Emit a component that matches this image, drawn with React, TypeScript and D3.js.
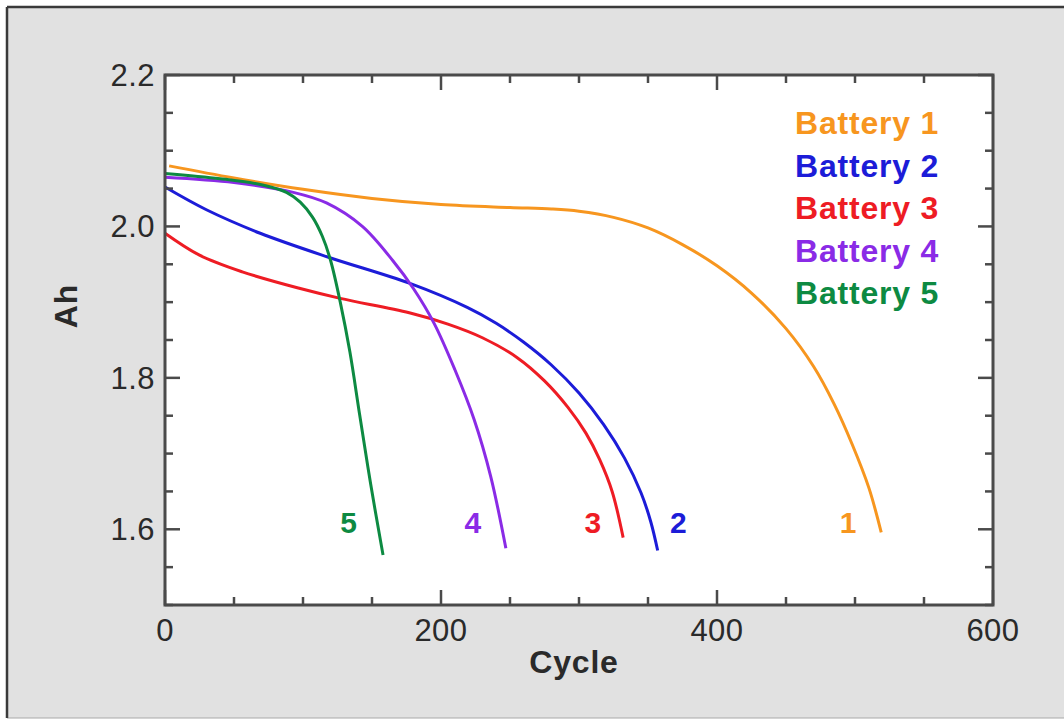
import React from "react";
import * as d3 from "d3";

const battery1 = [[3,2.080],[50,2.064],[100,2.049],[150,2.037],[200,2.029],[250,2.025],[280,2.023],[300,2.020],[325,2.012],[350,1.998],[375,1.976],[400,1.948],[425,1.912],[450,1.865],[470,1.815],[485,1.765],[498,1.712],[510,1.655],[519,1.596]];
const battery2 = [[0,2.052],[30,2.022],[69,1.991],[119,1.959],[177,1.925],[219,1.893],[240,1.872],[260,1.847],[280,1.817],[300,1.780],[318,1.738],[333,1.694],[345,1.648],[352,1.610],[357,1.572]];
const battery3 = [[0,1.991],[25,1.962],[56,1.940],[98,1.918],[127,1.905],[177,1.886],[205,1.871],[230,1.853],[255,1.827],[275,1.796],[292,1.761],[305,1.727],[315,1.692],[324,1.650],[332,1.589]];
const battery4 = [[0,2.065],[50,2.058],[93,2.045],[117,2.031],[143,2.000],[165,1.955],[180,1.918],[195,1.872],[210,1.811],[224,1.745],[236,1.670],[247,1.575]];
const battery5 = [[0,2.070],[40,2.063],[70,2.055],[88,2.045],[98,2.032],[107,2.012],[114,1.987],[120,1.955],[127,1.900],[134,1.834],[141,1.752],[149,1.660],[158,1.566]];

const seriesNames = ["Battery 1", "Battery 2", "Battery 3", "Battery 4", "Battery 5"];
const curveLabels = ["1", "2", "3", "4", "5"];
const labelCycles = [495, 372, 310, 223, 133];
const colors = ["#f7961f", "#1c1cd8", "#ee1c24", "#8a2be6", "#0d8a42"];
const xTicks = [0, 200, 400, 600];
const yTicks = [1.6, 1.8, 2.0, 2.2];

const allSeries = [battery1, battery2, battery3, battery4, battery5];

export default function App() {
  const W = 1064, H = 719;
  const left = 165, right = 993, top = 75, bottom = 605;
  const x = d3.scaleLinear().domain([0, 600]).range([left, right]);
  const y = d3.scaleLinear().domain([1.5, 2.2]).range([bottom, top]);
  const line = d3.line<number[]>().x(d => x(d[0])).y(d => y(d[1])).curve(d3.curveCatmullRom.alpha(0.5));
  const font = "'Liberation Sans', Arial, Helvetica, sans-serif";
  const axisColor = "#4a4a4a";
  const xMinor = d3.range(0, 601, 50);
  const yMinor = d3.range(1.5, 2.2001, 0.05);
  const isMajorX = (v: number) => Math.abs(v % 200) < 1e-6;
  const isMajorY = (v: number) => yTicks.some(t => Math.abs(t - v) < 1e-6);

  return (
    <svg width={W} height={H} style={{ position: "absolute", left: 0, top: 0, display: "block" }}>
      <rect x={0} y={0} width={W} height={H} fill="#ffffff" />
      <rect x={7} y={7} width={W - 7} height={711} fill="#e1e1e1" />
      <line x1={7} y1={718} x2={W} y2={718} stroke="#a8a8a8" strokeWidth={1} />
      <line x1={7} y1={7} x2={W} y2={7} stroke="#3a3a3a" strokeWidth={2.5} />
      <line x1={7} y1={7} x2={7} y2={718} stroke="#3a3a3a" strokeWidth={2.5} />
      <rect x={left} y={top} width={right - left} height={bottom - top} fill="#ffffff" />

      <g>
        {allSeries.map((s, i) => (
          <path key={i} d={line(s) || ""} fill="none" stroke={colors[i]} strokeWidth={3} />
        ))}
      </g>

      <g stroke={axisColor} strokeWidth={2.5}>
        {xMinor.map(v => {
          const len = isMajorX(v) ? 15 : 8;
          return (
            <g key={"xt" + v}>
              <line x1={x(v)} x2={x(v)} y1={bottom} y2={bottom - len} />
              <line x1={x(v)} x2={x(v)} y1={top} y2={top + len} />
            </g>
          );
        })}
        {yMinor.map(v => {
          const len = isMajorY(v) ? 15 : 8;
          return (
            <g key={"yt" + v.toFixed(2)}>
              <line x1={left} x2={left + len} y1={y(v)} y2={y(v)} />
              <line x1={right} x2={right - len} y1={y(v)} y2={y(v)} />
            </g>
          );
        })}
      </g>
      <rect x={left} y={top} width={right - left} height={bottom - top} fill="none" stroke={axisColor} strokeWidth={3} />

      {xTicks.map(v => (
        <text key={"xl" + v} x={x(v)} y={641} textAnchor="middle" fontFamily={font} fontSize={31} letterSpacing={0.5} fill="#2a2a2a">{v}</text>
      ))}
      {yTicks.map(v => (
        <text key={"yl" + v} x={155} y={y(v) + 11} textAnchor="end" fontFamily={font} fontSize={31} letterSpacing={0.5} fill="#2a2a2a">{v.toFixed(1)}</text>
      ))}

      <text x={574} y={673} textAnchor="middle" fontFamily={font} fontSize={32} letterSpacing={0.8} fontWeight="bold" fill="#2a2a2a">Cycle</text>
      <text transform={`translate(77,306) rotate(-90)`} textAnchor="middle" fontFamily={font} fontSize={32} letterSpacing={0.8} fontWeight="bold" fill="#2a2a2a">Ah</text>

      {seriesNames.map((n, i) => (
        <text key={n} x={795} y={134 + i * 42.5} fontFamily={font} fontSize={32} letterSpacing={0.8} fontWeight="bold" fill={colors[i]}>{n}</text>
      ))}

      {curveLabels.map((l, i) => (
        <text key={"cl" + l} x={x(labelCycles[i])} y={533} textAnchor="middle" fontFamily={font} fontSize={30} fontWeight="bold" fill={colors[i]}>{l}</text>
      ))}
    </svg>
  );
}
